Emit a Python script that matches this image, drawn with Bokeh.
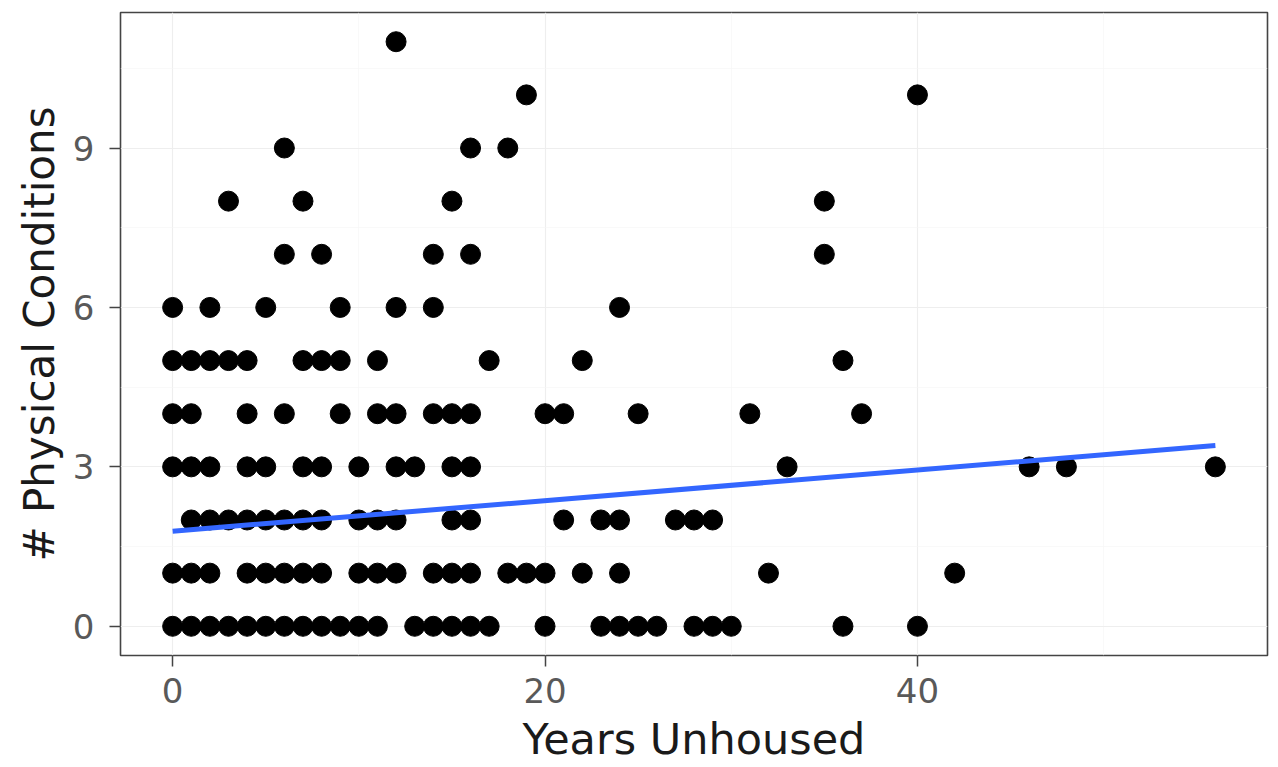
from bokeh.plotting import figure
from bokeh.models import FixedTicker, Range1d, ColumnDataSource
from bokeh.embed import file_html
from bokeh.resources import INLINE

# Data (years unhoused, number of physical conditions)
years_0 = [0, 1, 2, 3, 4, 5, 6, 7, 8, 9, 10, 11, 13, 14, 15, 16, 17, 20, 23, 24, 25, 26, 28, 29, 30, 36, 40]
years_1 = [0, 1, 2, 4, 5, 6, 7, 8, 10, 11, 12, 14, 15, 16, 18, 19, 20, 22, 24, 32, 42]
years_2 = [1, 2, 3, 4, 5, 6, 7, 8, 10, 11, 12, 15, 16, 21, 23, 24, 27, 28, 29]
years_3 = [0, 1, 2, 4, 5, 7, 8, 10, 12, 13, 15, 16, 33, 46, 48, 56]
years_4 = [0, 1, 4, 6, 9, 11, 12, 14, 15, 16, 20, 21, 25, 31, 37]
years_5 = [0, 1, 2, 3, 4, 7, 8, 9, 11, 17, 22, 36]
years_6 = [0, 2, 5, 9, 12, 14, 24]
years_7 = [6, 8, 14, 16, 35]
years_8 = [3, 7, 15, 35]
years_9 = [6, 16, 18]
years_10 = [19, 40]
years_11 = [12]

rows = [years_0, years_1, years_2, years_3, years_4, years_5,
        years_6, years_7, years_8, years_9, years_10, years_11]

x_vals = []
y_vals = []
for cond, yrs in enumerate(rows):
    for yr in yrs:
        x_vals.append(yr)
        y_vals.append(cond)

# Linear fit line
fit_x = [0, 56]
fit_y = [1.79, 3.40]

x_ticks = [0, 20, 40]
x_minor = [10, 30, 50]
y_ticks = [0, 3, 6, 9]
y_minor = [1.5, 4.5, 7.5, 10.5]

FONT = "DejaVu Sans"

p = figure(width=1278, height=767, output_backend="svg", toolbar_location=None,
           x_range=Range1d(-2.8, 58.8), y_range=Range1d(-0.55, 11.55),
           min_border_left=120, min_border_right=11, min_border_top=12, min_border_bottom=112)

p.background_fill_color = "white"
p.border_fill_color = "white"
p.outline_line_color = "#444444"
p.outline_line_width = 1.6

p.xaxis.ticker = FixedTicker(ticks=x_ticks, minor_ticks=x_minor)
p.yaxis.ticker = FixedTicker(ticks=y_ticks, minor_ticks=y_minor)

p.xgrid.grid_line_color = "#EEEEEE"
p.ygrid.grid_line_color = "#EEEEEE"
p.xgrid.grid_line_width = 1.2
p.ygrid.grid_line_width = 1.2
p.xgrid.minor_grid_line_color = "#F5F5F5"
p.ygrid.minor_grid_line_color = "#F5F5F5"
p.xgrid.minor_grid_line_width = 0.6
p.ygrid.minor_grid_line_width = 0.6

for ax in (p.xaxis, p.yaxis):
    ax.axis_line_color = None
    ax.major_tick_line_color = "#444444"
    ax.major_tick_line_width = 1.5
    ax.major_tick_out = 11
    ax.major_tick_in = 0
    ax.minor_tick_line_color = None
    ax.major_label_text_font = FONT
    ax.major_label_text_font_size = "34px"
    ax.major_label_text_color = "#595959"
    ax.axis_label_text_font = FONT
    ax.axis_label_text_font_style = "normal"
    ax.axis_label_text_color = "#1a1a1a"

p.xaxis.axis_label_text_font_size = "43px"
p.yaxis.axis_label_text_font_size = "42px"
p.xaxis.axis_label = "Years Unhoused"
p.yaxis.axis_label = "# Physical Conditions"
p.xaxis.major_label_standoff = 11
p.yaxis.major_label_standoff = 15
p.xaxis.axis_label_standoff = 8
p.yaxis.axis_label_standoff = 6

src = ColumnDataSource(dict(x=x_vals, y=y_vals))
p.scatter("x", "y", source=src, size=20, fill_color="black", line_color="black")

p.line(fit_x, fit_y, line_color="#3366FF", line_width=5)

open("out.html", "w").write(file_html(p, INLINE))
